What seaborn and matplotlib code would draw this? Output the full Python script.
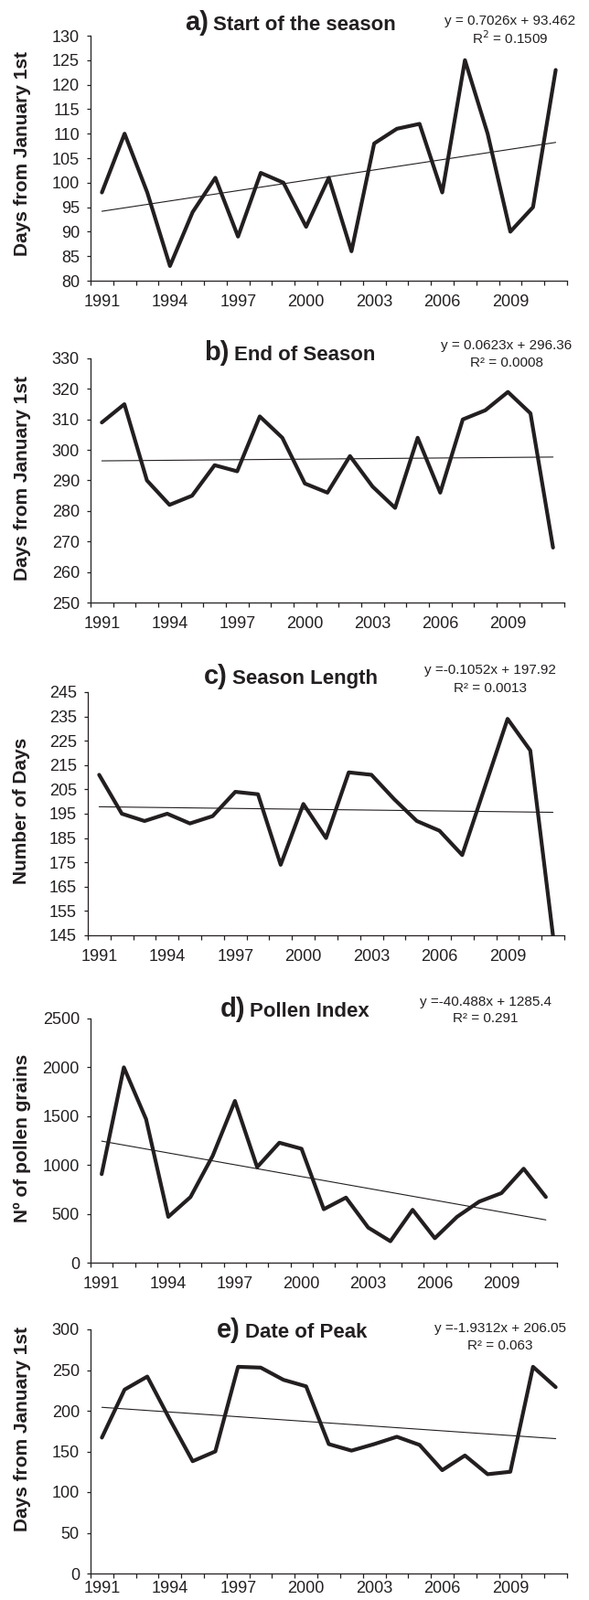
import numpy as np
import pandas as pd
import seaborn as sns
import matplotlib.pyplot as plt

years = list(range(1991, 2012))

start_season = [98, 110, 98, 83, 94, 101, 89, 102, 100, 91, 101, 86, 108, 111, 112, 98, 125, 110, 90, 95, 123]
end_season = [309, 315, 290, 282, 285, 295, 293, 311, 304, 289, 286, 298, 288, 281, 304, 286, 310, 313, 319, 312, 268]
season_length = [211, 195, 192, 195, 191, 194, 204, 203, 174, 199, 185, 212, 211, 201, 192, 188, 178, 206, 234, 221, 145]
pollen_index = [906, 2000, 1469, 469, 672, 1094, 1656, 978, 1228, 1166, 547, 666, 359, 219, 541, 250, 469, 625, 712, 962, 672]
peak_date = [167, 226, 242, 189, 138, 150, 254, 253, 238, 230, 159, 151, 159, 168, 158, 127, 145, 122, 125, 254, 229]

series = [start_season, end_season, season_length, pollen_index, peak_date]
letters = ["a)", "b)", "c)", "d)", "e)"]
titles = ["Start of the season", "End of Season", "Season Length", "Pollen Index", "Date of Peak"]
ylabels = ["Days from January 1st", "Days from January 1st", "Number of Days",
           "Nº of pollen grains", "Days from January 1st"]
equations = ["y = 0.7026x + 93.462", "y = 0.0623x + 296.36", "y =-0.1052x + 197.92",
             "y =-40.488x + 1285.4", "y =-1.9312x + 206.05"]
r2_texts = ["R$^2$ = 0.1509", "R² = 0.0008", "R² = 0.0013", "R² = 0.291", "R² = 0.063"]
yranges = [(80, 130, 5), (250, 330, 10), (145, 245, 10), (0, 2500, 500), (0, 300, 50)]

# layout, pixels of the 644x1750 figure
W, H = 644, 1750
boxes = [(99, 39, 620, 307), (99, 392, 617, 659), (96, 757, 617, 1023),
         (99, 1114, 609, 1381), (99, 1454, 620, 1721)]
title_pos = [(233, 33), (256, 394), (254, 748), (273, 1112), (268, 1463)]
eq_pos = [(558, 23, 42), (554, 378, 397), (536, 733, 753), (531, 1096, 1114), (547, 1453, 1472)]
label_y = [0.52, 0.51, 0.51, 0.51, 0.59]
xlabel_pad = [10.5, 10.5, 10.5, 10.5, 6.0]

ink = "#231f20"
sns.set_style("ticks")
plt.rcParams['font.family'] = ['Liberation Sans', 'DejaVu Sans']
plt.rcParams['text.color'] = ink
plt.rcParams['axes.labelcolor'] = ink
plt.rcParams['xtick.color'] = ink
plt.rcParams['ytick.color'] = ink
plt.rcParams['axes.edgecolor'] = ink

fig = plt.figure(figsize=(W / 100, H / 100), dpi=100)

for i, vals in enumerate(series):
    x0, y0, x1, y1 = boxes[i]
    ax = fig.add_axes([x0 / W, 1 - y1 / H, (x1 - x0) / W, (y1 - y0) / H])
    df = pd.DataFrame({"year": years, "value": vals})

    # linear trend line + the yearly series
    sns.regplot(data=df, x="year", y="value", ci=None, scatter=False, truncate=True,
                color=ink, line_kws={"lw": 0.8}, ax=ax)
    sns.lineplot(data=df, x="year", y="value", color=ink, lw=3.0, ax=ax)

    lo, hi, step = yranges[i]
    ax.set_ylim(lo, hi)
    ax.set_yticks(np.arange(lo, hi + step, step))
    ax.set_xlim(1990.5, 2011.5)
    ax.set_xticks(years[::3])
    ax.set_xticks(np.arange(1990.5, 2012, 1), minor=True)
    ax.tick_params(axis="x", which="major", length=0, pad=xlabel_pad[i], labelsize=13)
    ax.tick_params(axis="x", which="minor", length=3.6, width=0.9)
    ax.tick_params(axis="y", length=3.2, width=0.9, pad=5.5, labelsize=13)
    for sp in ax.spines.values():
        sp.set_linewidth(0.9)
    sns.despine(ax=ax)

    ax.set_xlabel("")
    ax.set_ylabel(ylabels[i], fontsize=15, fontweight="bold", va="center")
    ax.yaxis.set_label_coords((24 - x0) / (x1 - x0), label_y[i])

    tx, by = title_pos[i]
    fig.text((tx - 5) / W, 1 - by / H, letters[i], ha="right", va="baseline",
             fontsize=21, fontweight="bold")
    fig.text(tx / W, 1 - by / H, titles[i], ha="left", va="baseline",
             fontsize=16, fontweight="bold")

    ex, ey1, ey2 = eq_pos[i]
    fig.text(ex / W, 1 - ey1 / H, equations[i], ha="center", va="center", fontsize=11)
    fig.text(ex / W, 1 - ey2 / H, r2_texts[i], ha="center", va="center", fontsize=11)

fig.savefig("out.png", dpi=100)
